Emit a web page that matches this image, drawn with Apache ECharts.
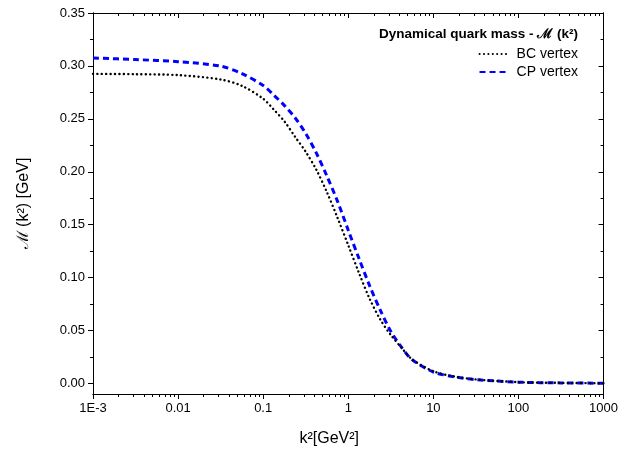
<!DOCTYPE html>
<html>
<head>
<meta charset="utf-8">
<script src="https://cdn.jsdelivr.net/npm/echarts@6/dist/echarts.min.js"></script>
<style>html,body{margin:0;padding:0;background:#fff;}#c{width:621px;height:458px;}</style>
</head>
<body>
<div id="c"></div>
<script>
// k^2 values [GeV^2]
var kValues = [0.001, 0.00316, 0.01, 0.0316, 0.0562, 0.1, 0.133, 0.178, 0.237, 0.316, 0.422, 0.562, 0.75, 1, 1.33, 1.78, 2.37, 3.16, 4.22, 5.62, 10, 17.8, 31.6, 100, 316, 1000];
// Dynamical quark mass, BC vertex [GeV]
var bcValues = [0.2925, 0.2922, 0.2913, 0.2872, 0.2812, 0.2690, 0.2588, 0.2475, 0.2331, 0.2189, 0.2018, 0.1805, 0.1562, 0.1305, 0.1048, 0.0801, 0.0606, 0.0458, 0.0338, 0.0228, 0.0115, 0.0065, 0.0038, 0.0012, 0.0005, 0.0002];
// Dynamical quark mass, CP vertex [GeV]
var cpValues = [0.3075, 0.3060, 0.3040, 0.2998, 0.2928, 0.2815, 0.2725, 0.2625, 0.2510, 0.2362, 0.2176, 0.1958, 0.1718, 0.1447, 0.1185, 0.0924, 0.0695, 0.0492, 0.0343, 0.0225, 0.0108, 0.0062, 0.0036, 0.0012, 0.0005, 0.0002];
// x tick labels (decades, exponent -3..3)
var xTickExponents = [-3, -2, -1, 0, 1, 2, 3];
var xTickLabels = ['1E-3', '0.01', '0.1', '1', '10', '100', '1000'];
// y ticks
var yMajorTicks = [0, 0.05, 0.1, 0.15, 0.2, 0.25, 0.3, 0.35];
var yMinorTicks = [0.025, 0.075, 0.125, 0.175, 0.225, 0.275, 0.325];

var xMinorTicks = [];
for (var d = -3; d < 3; d++) {
  for (var m = 2; m <= 9; m++) xMinorTicks.push(d + Math.log10(m));
}

function pairs(vals) {
  return kValues.map(function (k, i) { return [Math.log10(k), vals[i]]; });
}

var font = 'Liberation Sans, Arial, sans-serif';
var axisCommon = {
  min: -3, max: 3, type: 'value',
  axisLine: { show: true, onZero: false, lineStyle: { color: '#000', width: 1 } },
  splitLine: { show: false }
};
function xAxisDef(pos, inside, minor, showLabel) {
  return Object.assign({}, axisCommon, {
    position: pos,
    gridIndex: 0,
    axisTick: { show: true, inside: inside, length: minor ? 3 : 5, customValues: minor ? xMinorTicks : xTickExponents, lineStyle: { color: '#000', width: 1 } },
    axisLabel: showLabel ? {
      show: true, customValues: xTickExponents, color: '#000', fontSize: 13, fontFamily: font, margin: 8,
      formatter: function (v) { var i = xTickExponents.indexOf(Math.round(v)); return xTickLabels[i]; }
    } : { show: false }
  });
}
function yAxisDef(pos, inside, minor, showLabel) {
  return {
    type: 'value', min: -0.01, max: 0.35, position: pos,
    axisLine: { show: true, onZero: false, lineStyle: { color: '#000', width: 1 } },
    splitLine: { show: false },
    axisTick: { show: true, inside: inside, length: minor ? 3 : 5, customValues: minor ? yMinorTicks : yMajorTicks, lineStyle: { color: '#000', width: 1 } },
    axisLabel: showLabel ? {
      show: true, customValues: yMajorTicks, color: '#000', fontSize: 13, fontFamily: font, margin: 8,
      formatter: function (v) { return v.toFixed(2); }
    } : { show: false }
  };
}

var xAxes = [
  xAxisDef('bottom', false, false, true),
  xAxisDef('bottom', false, true, false),
  xAxisDef('top', true, false, false),
  xAxisDef('top', true, true, false)
];
xAxes[0].name = 'k²[GeV²]';
xAxes[0].nameLocation = 'middle';
xAxes[0].nameGap = 37;
xAxes[0].nameTextStyle = { fontSize: 16, fontFamily: font, color: '#000', padding: [0, 38, 0, 0] };

var yAxes = [
  yAxisDef('left', false, false, true),
  yAxisDef('left', false, true, false),
  yAxisDef('right', true, false, false),
  yAxisDef('right', true, true, false)
];
yAxes[0].name = 'ℳ (k²) [GeV]';
yAxes[0].nameLocation = 'middle';
yAxes[0].nameGap = 61;
yAxes[0].nameTextStyle = { fontSize: 16, fontFamily: font, color: '#000' };

var chart = echarts.init(document.getElementById('c'));
chart.setOption({
  animation: false,
  backgroundColor: '#fff',
  grid: { left: 93, right: 17, top: 13, bottom: 64, containLabel: false },
  title: {
    text: 'Dynamical quark mass - ℳ (k²)',
    right: 38, top: 22,
    textStyle: { fontSize: 13.5, fontWeight: 'bold', fontFamily: font, color: '#000' }
  },
  legend: {
    orient: 'vertical', right: 38, top: 42, itemGap: 4, itemWidth: 30, itemHeight: 13,
    itemStyle: { color: 'rgba(0,0,0,0)', borderWidth: 0, opacity: 0 },
    textStyle: { fontSize: 14, fontFamily: font, color: '#000', padding: [0, 0, 0, 2] },
    data: ['BC vertex', 'CP vertex']
  },
  xAxis: xAxes,
  yAxis: yAxes,
  series: [
    {
      name: 'BC vertex', type: 'line', data: pairs(bcValues), smooth: 0.3,
      symbol: 'none', showSymbol: false, xAxisIndex: 0, yAxisIndex: 0,
      lineStyle: { color: '#000', width: 2.4, type: [0.1, 4.3], cap: 'round' },
      itemStyle: { color: '#000' }, z: 3
    },
    {
      name: 'CP vertex', type: 'line', data: pairs(cpValues), smooth: 0.3,
      symbol: 'none', showSymbol: false, xAxisIndex: 0, yAxisIndex: 0,
      lineStyle: { color: '#0000ff', width: 3, type: [6, 4] },
      itemStyle: { color: '#0000ff' }, z: 2
    }
  ]
});
</script>
</body>
</html>
